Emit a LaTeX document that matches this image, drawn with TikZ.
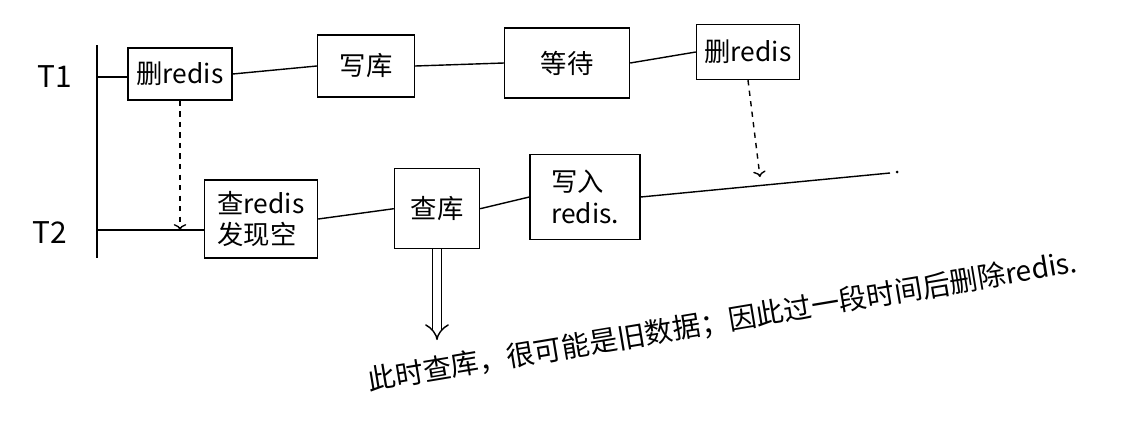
\documentclass[tikz,border=0pt]{standalone}
\usepackage{fontspec}
\setmainfont{Noto Sans CJK SC}
\usetikzlibrary{arrows.meta}

\begin{document}
\begin{tikzpicture}[mybox/.style={draw,thick,align=left,font=\fontsize{15}{18}\selectfont},
        myline/.style={thick}]
        \useasboundingbox (0,0) rectangle (22.76,8.56);

        %label thread
        \node[font=\fontsize{17}{20}\selectfont] (T1) at (1.1,7.02) {T1};
        \node[font=\fontsize{17}{20}\selectfont] (T2) at (1.0,3.9) {T2};

        %time axis
        \coordinate (top) at (1.94,7.66);
        \coordinate (bot) at (1.94,3.4);
        \coordinate (s1) at (1.94,7.02);
        \coordinate (s2) at (1.94,3.96);
        \draw [myline] (top) -- (bot);

        %T1 steps
        \node[mybox,minimum width=2.08cm,minimum height=1.04cm] (A) at (3.6,7.08) {删redis};
        \node[mybox,minimum width=1.94cm,minimum height=1.24cm] (B) at (7.32,7.24) {写库};
        \node[mybox,minimum width=2.5cm,minimum height=1.4cm] (C) at (11.34,7.3) {等待};
        \node[mybox,minimum width=2.06cm,minimum height=1.1cm] (D) at (14.96,7.52) {删redis};

        %T2 steps
        \node[mybox,minimum width=2.26cm,minimum height=1.56cm] (A1) at (5.22,4.18) {查redis\\发现空};
        \node[mybox,minimum width=1.7cm,minimum height=1.6cm,anchor=north] (B1) at (8.74,5.2) {查库};
        \node[mybox,minimum width=2.2cm,minimum height=1.7cm] (C1) at (11.7,4.62) {写入\\redis.};
        \coordinate (E1) at (17.8,5.1);
        \coordinate (X) at (15.2,5.02);

        %horizontal lines
        \draw [myline] (s1) -- (s1 -| A.west);
        \draw [myline] (A.east) -- (B.west);
        \draw [myline] (B.east) -- (C.west);
        \draw [myline] (C.east) -- (D.west);
        \draw [myline] (s2) -- (s2 -| A1.west);
        \draw [myline] (A1.east) -- (B1.west);
        \draw [myline] (B1.east) -- (C1.west);
        \draw [myline] (C1.east) -- (E1);
        \fill (17.94,5.12) circle [radius=0.03];

        %dashed arrows
        \draw [->, dashed, thick] (A.south) -- (A.south |- s2);
        \draw [->, dashed, thick] (D.south) -- (X);

        %result
        \coordinate (R) at (8.74,1.76);
        \draw [-{Implies}, double, double distance=4pt, thick] (B1.south) -- (R);
        \node[rotate=9.5,font=\fontsize{16}{19}\selectfont] (note) at (14.45,2.12) {此时查库，很可能是旧数据；因此过一段时间后删除redis.};
        \end{tikzpicture}
\end{document}
